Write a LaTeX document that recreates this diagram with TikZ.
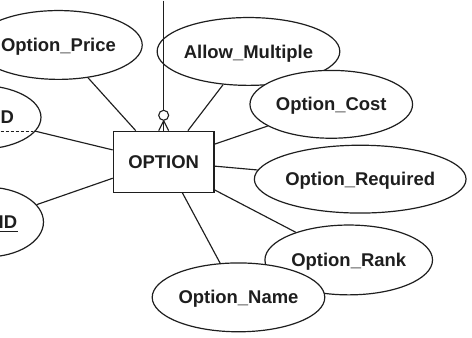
\documentclass[tikz,border=0pt]{standalone}
\usepackage{fontspec}
\setmainfont{Liberation Sans}
\usetikzlibrary{shapes.geometric,calc}
\definecolor{ink}{RGB}{30,30,30}
\begin{document}
\begin{tikzpicture}[x=1pt,y=-1pt,
  every path/.style={line width=1.15pt, draw=ink},
  lbl/.style={inner sep=0pt, text=ink, font=\bfseries\fontsize{18.5}{20}\selectfont,
    text height=13.2pt, text depth=0pt},
  attr/.style={lbl, ellipse, draw=ink, line width=1.2pt, fill=white},
  ent/.style={lbl, rectangle, draw=ink, line width=1.2pt, fill=white,
    minimum width=101pt, minimum height=61pt},
  ring/.style={circle, draw=ink, line width=1.1pt, fill=white, inner sep=0pt, minimum size=10pt},
  link/.style={line width=1.15pt, draw=ink}]
\useasboundingbox (0,0) rectangle (472,337);
\fill[white] (0,0) rectangle (472,337);

% attributes (later ones overlap earlier ones)
\node[attr, minimum width=168pt, minimum height=69pt] (price) at (58,44.5) {Option\_Price};
\node[attr, minimum width=179pt, minimum height=68pt] (allow) at (248.5,51) {Allow\_Multiple};
\node[attr, minimum width=163pt, minimum height=68pt] (cost) at (331.5,104) {Option\_Cost};
\node[attr, minimum width=203pt, minimum height=68pt] (req) at (360.5,179) {Option\_Required};
\node[attr, minimum width=168pt, minimum height=70pt] (rank) at (349,260) {Option\_Rank};
\node[attr, minimum width=173pt, minimum height=69pt] (name) at (238.5,297.5) {Option\_Name};

% key attributes at the left border
\node[attr, minimum width=123pt, minimum height=64pt] (kd) at (-21,117) {};
\node[attr, minimum width=114pt, minimum height=70pt] (kid) at (-14,222) {};
\node[lbl, anchor=west] (kdtext) at (-0.5,116.5) {D};
\node[lbl, anchor=west] (kidtext) at (-2.5,221.5) {ID};
\draw[link, line width=1pt] ($(kidtext.south west)+(0,3)$) -- ($(kidtext.south east)+(0,3)$);

% entity
\node[ent] (opt) at (163.5,161.5) {OPTION};

% relationship line from above with optional-many end
\coordinate (topend) at (163.5,0);
\coordinate (leftedge) at (0,0);
\node[ring] (ring) at (163.5,115) {};
\draw[link] (topend) -- (ring);
\draw[link] (ring.south) -- (opt.north);
\draw[link] (ring.south) -- ($(opt.north)+(-5,0)$);
\draw[link] (ring.south) -- ($(opt.north)+(5,0)$);

% attribute connectors
\draw[link] (price) -- (opt.132);
\draw[link] (allow) -- (opt.52);
\draw[link] (cost) -- (opt.19);
\draw[link] (req) -- (opt.-5);
\draw[link] (rank) -- (opt.-29);
\draw[link] (name) -- (opt.-59);
\draw[link] (kid) -- (opt.198);
\draw[link] (kd.-14) -- (opt.167);
\draw[link, line width=0.9pt, dash pattern=on 3pt off 2pt] (kd.-14 -| leftedge) -- (kd.-14);
\end{tikzpicture}
\end{document}
